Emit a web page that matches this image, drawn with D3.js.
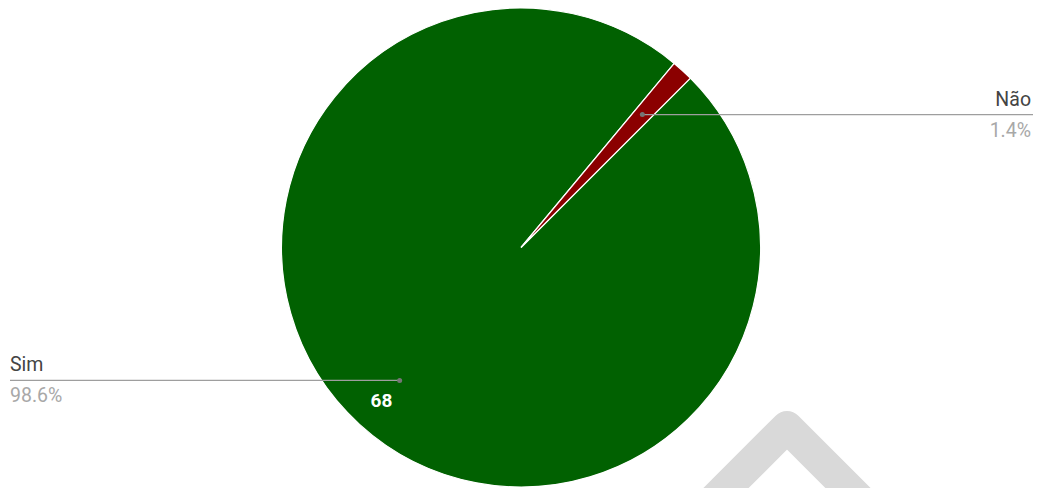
<!DOCTYPE html>
<html>
<head>
<meta charset="utf-8">
<script src="https://cdn.jsdelivr.net/npm/d3@7/dist/d3.min.js"></script>
<style>
  html, body { margin: 0; padding: 0; background: #fff; }
  svg { display: block; }
  text { font-family: Roboto, Arial, sans-serif; }
</style>
</head>
<body>
<svg id="chart" width="1037" height="488"></svg>
<script>
const categories = ["Sim", "Não"];
const values = [68, 1];
const percentLabels = ["98.6%", "1.4%"];
const colors = ["#016101", "#8b0000"];

const W = 1037, H = 488;
const cx = 521, cy = 247.5, R = 239.5;
const startAngle = 45 * Math.PI / 180;

const svg = d3.select("#chart");

// faint watermark (bottom right)
svg.append("path")
  .attr("d", "M672,542 L787,427 L902,542")
  .attr("fill", "none")
  .attr("stroke", "#d9d9d9")
  .attr("stroke-width", 32)
  .attr("stroke-linejoin", "round");

const data = categories.map((c, i) => ({ name: c, value: values[i], pct: percentLabels[i], color: colors[i] }));

const pie = d3.pie().value(d => d.value).sort(null)
  .startAngle(startAngle).endAngle(startAngle + 2 * Math.PI);
const arcs = pie(data);

const g = svg.append("g").attr("transform", `translate(${cx},${cy})`);
const arc = d3.arc().innerRadius(0).outerRadius(R);

g.selectAll("path.slice").data(arcs).enter().append("path")
  .attr("class", "slice")
  .attr("d", arc)
  .attr("fill", d => d.data.color)
  .attr("stroke", "#ffffff")
  .attr("stroke-width", 1.2);

const mid = d => (d.startAngle + d.endAngle) / 2;
const pt = (a, r) => [Math.sin(a) * r, -Math.cos(a) * r];

// value label inside big slice
const big = arcs[0];
const vp = pt(mid(big), 207);
g.append("text")
  .attr("x", vp[0]).attr("y", vp[1])
  .attr("text-anchor", "middle")
  .attr("dominant-baseline", "central")
  .attr("fill", "#ffffff")
  .attr("font-size", 19)
  .attr("font-weight", "bold")
  .text(big.data.value);

// leader lines and labels
arcs.forEach(d => {
  const a = mid(d);
  const p = pt(a, 180);
  const right = Math.sin(a) > 0;
  const lx = right ? W - 4 - cx : 10 - cx;
  const ly = p[1];
  g.append("line")
    .attr("x1", p[0]).attr("y1", ly)
    .attr("x2", lx).attr("y2", ly)
    .attr("stroke", "#9e9e9e").attr("stroke-width", 1.2);
  g.append("circle")
    .attr("cx", p[0]).attr("cy", ly).attr("r", 2.5)
    .attr("fill", "#757575");
  const tx = right ? W - 6 - cx : 10 - cx;
  const anchor = right ? "end" : "start";
  g.append("text")
    .attr("x", tx).attr("y", ly - 9)
    .attr("text-anchor", anchor)
    .attr("fill", "#444444")
    .attr("font-size", 19.5)
    .text(d.data.name);
  g.append("text")
    .attr("x", tx).attr("y", ly + 22)
    .attr("text-anchor", anchor)
    .attr("fill", "#a8a8a8")
    .attr("font-size", 19.5)
    .text(d.data.pct);
});
</script>
</body>
</html>
